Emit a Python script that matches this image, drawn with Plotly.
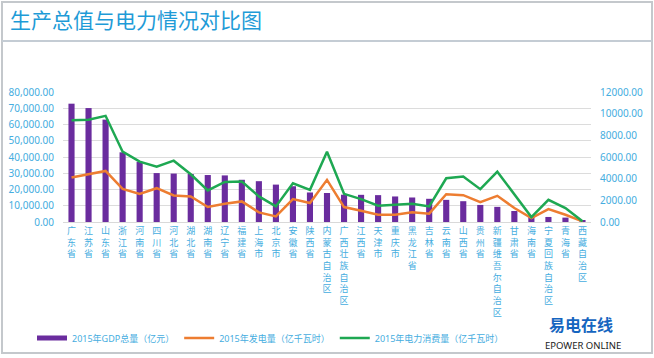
import plotly.graph_objects as go

provinces = ["广东省", "江苏省", "山东省", "浙江省", "河南省", "四川省", "河北省", "湖北省",
             "湖南省", "辽宁省", "福建省", "上海市", "北京市", "安徽省", "陕西省",
             "内蒙古自治区", "广西壮族自治区", "江西省", "天津市", "重庆市", "黑龙江省",
             "吉林省", "云南省", "山西省", "贵州省", "新疆维吾尔自治区", "甘肃省", "海南省",
             "宁夏回族自治区", "青海省", "西藏自治区"]

gdp = [72813, 70116, 63002, 42886, 37002, 30103, 29806, 29550, 28902, 28669, 25980,
       25123, 23015, 22006, 18172, 17832, 16803, 16724, 16538, 15717, 15084, 14274,
       13619, 12803, 10503, 9325, 6790, 3300, 3100, 2700, 1026]

generation = [4100, 4410, 4710, 3060, 2600, 3120, 2450, 2360, 1380, 1680, 1900,
              890, 520, 2110, 1750, 3890, 1380, 1040, 670, 670, 890, 770,
              2570, 2480, 1840, 2420, 1290, 370, 1190, 670, 60]

consumption = [9400, 9450, 9800, 6490, 5570, 5110, 5660, 4410, 2910, 3700, 3740,
               2360, 1440, 3580, 2970, 6490, 2600, 2110, 1500, 1590, 1680, 1440,
               4040, 4190, 3030, 4650, 2510, 460, 2050, 1290, 60]

left_ticks = [0, 10000, 20000, 30000, 40000, 50000, 60000, 70000, 80000]
right_ticks = [0, 2000, 4000, 6000, 8000, 10000, 12000]

series_names = ["2015年GDP总量（亿元）", "2015年发电量（亿千瓦时）", "2015年电力消费量（亿千瓦时）"]
title_text = "生产总值与电力情况对比图"

W, H = 654, 358
L, R, T, B = 63, 63, 92, 136
PW, PH = W - L - R, H - T - B

def px(x):
    return (x - L) / PW

def py(y):
    return (H - B - y) / PH

tick_col = "#45ade0"
font_fam = "Noto Sans, Noto Sans CJK SC, sans-serif"
purple, orange, green = "#6a2c9e", "#ed7d31", "#1ea852"

ticktext = ["<br>".join(list(p)) for p in provinces]

fig = go.Figure()
fig.add_trace(go.Bar(x=provinces, y=gdp, name=series_names[0], showlegend=False,
                     legendgroup="gdp",
                     marker=dict(color=purple, line=dict(width=0)), yaxis="y"))
# legend entry for the bars, drawn as a thick bar-coloured stroke like the reference
fig.add_trace(go.Scatter(x=[None], y=[None], name=series_names[0], mode="lines",
                         legendgroup="gdp", line=dict(color=purple, width=5), yaxis="y"))
fig.add_trace(go.Scatter(x=provinces, y=generation, name=series_names[1], mode="lines",
                         line=dict(color=orange, width=2.5), yaxis="y2"))
fig.add_trace(go.Scatter(x=provinces, y=consumption, name=series_names[2], mode="lines",
                         line=dict(color=green, width=2.5), yaxis="y2"))

shapes = [
    dict(type="rect", xref="paper", yref="paper", x0=px(2), x1=px(652), y0=py(2), y1=py(353),
         line=dict(color="#c4c8cc", width=2), fillcolor="rgba(0,0,0,0)", layer="below"),
    dict(type="line", xref="paper", yref="paper", x0=px(2), x1=px(652), y0=py(41), y1=py(41),
         line=dict(color="#c4ccd4", width=2), layer="below"),
]

annotations = [
    dict(text="<b>易电在线</b>", xref="paper", yref="paper", x=px(581), y=py(325),
         xanchor="center", yanchor="middle", showarrow=False,
         font=dict(size=16, color="#1565c0", family=font_fam)),
    dict(text="EPOWER ONLINE", xref="paper", yref="paper", x=px(583), y=py(345),
         xanchor="center", yanchor="middle", showarrow=False,
         font=dict(size=9.5, color="#1a1a1a", family=font_fam)),
]

fig.update_layout(
    width=W, height=H,
    margin=dict(l=L, r=R, t=T, b=B, autoexpand=False),
    paper_bgcolor="white", plot_bgcolor="white",
    font=dict(family=font_fam, color=tick_col),
    title=dict(text=title_text, xref="container", yref="container", x=10 / W, xanchor="left",
               y=1 - 21 / H, yanchor="middle",
               font=dict(size=21, color="#1e9bd7", family="Noto Sans CJK SC")),
    bargap=0.64,
    showlegend=True,
    legend=dict(orientation="h", xref="container", yref="container",
                x=32 / W, xanchor="left", y=1 - 338 / H, yanchor="middle",
                font=dict(size=9, color=tick_col), bgcolor="rgba(0,0,0,0)",
                itemwidth=30, tracegroupgap=0),
    xaxis=dict(tickmode="array", tickvals=provinces, ticktext=ticktext, tickangle=0,
               tickfont=dict(size=9, color=tick_col), showgrid=False, zeroline=False,
               showline=True, linecolor="#d9d9d9", ticks="", range=[-0.5, 30.5]),
    yaxis=dict(range=[0, 80000], tickvals=left_ticks, tickformat=",.2f",
               tickfont=dict(size=10, color=tick_col), gridcolor="#dcdcdc", gridwidth=1,
               zeroline=False, showline=False, ticks="", ticklabelstandoff=8),
    yaxis2=dict(range=[0, 12000], tickvals=right_ticks, tickformat=".2f", overlaying="y",
                side="right", tickfont=dict(size=10, color=tick_col), showgrid=False,
                zeroline=False, showline=False, ticks="", ticklabelstandoff=8),
    shapes=shapes,
    annotations=annotations,
)

fig.write_html("out.html", config={"displayModeBar": False},
               post_script="document.body.style.margin='0';document.body.style.overflow='hidden';")
